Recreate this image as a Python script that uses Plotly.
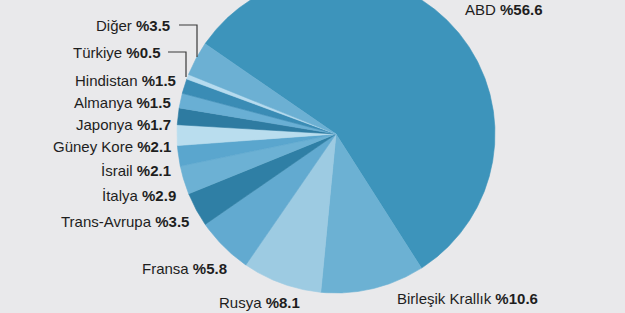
import numpy as np
import plotly.graph_objects as go

# ---- data ----
countries = ["ABD", "Birleşik Krallık", "Rusya", "Fransa", "Trans-Avrupa", "İtalya",
             "İsrail", "Güney Kore", "Japonya", "Almanya", "Hindistan", "Türkiye", "Diğer"]
shares = [56.6, 10.6, 8.1, 5.8, 3.5, 2.9, 2.1, 2.1, 1.7, 1.5, 1.5, 0.5, 3.5]

# ---- styles ----
colors = ["#3d94bb", "#6cb1d3", "#9dcbe2", "#62aad0", "#2f7fa5", "#6cb1d4",
          "#5aa6ce", "#b9ddee", "#2e7ba1", "#69afd4", "#3a8cb5", "#b6dbef", "#6cb0d3"]
BG = "#e9e9eb"
W, H = 625, 313
CX, CY, R = 336, 134, 159
END_FIRST = -57.5  # angle (deg, math) where first slice ends, going clockwise

# label layout: (x anchor, y center, xanchor)
label_pos = [(463, 9, "left"), (395, 298, "left"), (302, 302, "right"), (229, 268, "right"),
             (191, 221, "right"), (178, 195, "right"), (173, 170, "right"), (173, 146, "right"),
             (173, 124, "right"), (173, 102, "right"), (178, 80, "right"), (163, 52, "right"),
             (172, 25, "right")]
leaders = {11: [(168, 52), (186, 52), (186, 77)], 12: [(179, 25), (197, 25), (197, 57)]}

total = sum(shares)
spans = [s / total * 360.0 for s in shares]
start = END_FIRST + spans[0]

fig = go.Figure()
a = start
for i, (name, val, sp) in enumerate(zip(countries, shares, spans)):
    a0, a1 = a, a - sp
    n = max(3, int(sp * 3))
    th = np.radians(np.linspace(a0, a1, n))
    xs = np.concatenate([[CX], CX + R * np.cos(th), [CX]])
    ys = np.concatenate([[CY], CY - R * np.sin(th), [CY]])
    fig.add_trace(go.Scatter(
        x=xs, y=ys, mode="lines", fill="toself", fillcolor=colors[i],
        line=dict(width=0.6, color=colors[i]), name=name,
        hoveron="fills", text=f"{name} %{val}", hoverinfo="text", showlegend=False))
    a = a1

for i, (name, val) in enumerate(zip(countries, shares)):
    x, y, anc = label_pos[i]
    fig.add_annotation(x=x, y=y, xref="x", yref="y", xanchor=anc, yanchor="middle",
                       text=f"{name} <b>%{val}</b>", showarrow=False,
                       font=dict(family="Liberation Sans, Arial, sans-serif", size=15, color="#1e1e1e"))

for pts in leaders.values():
    xs = [p[0] for p in pts]
    ys = [p[1] for p in pts]
    fig.add_trace(go.Scatter(x=xs, y=ys, mode="lines", line=dict(color="#3a3a3a", width=1.2),
                             hoverinfo="skip", showlegend=False))

fig.update_layout(
    width=W, height=H, margin=dict(l=0, r=0, t=0, b=0),
    paper_bgcolor=BG, plot_bgcolor=BG,
    xaxis=dict(range=[0, W], visible=False, fixedrange=True),
    yaxis=dict(range=[H, 0], visible=False, fixedrange=True),
    showlegend=False,
)
fig.write_html("out.html")
